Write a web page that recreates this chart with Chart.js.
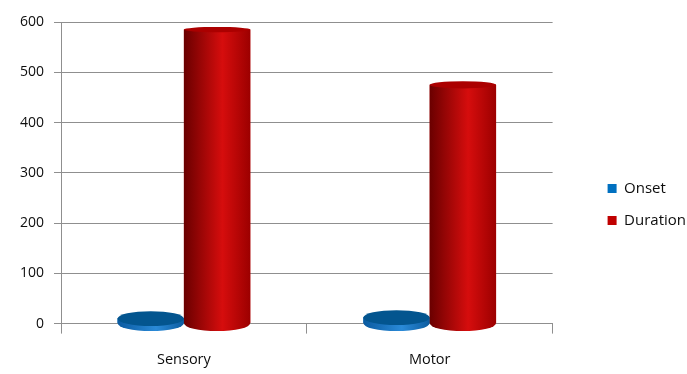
<!DOCTYPE html>
<html><head><meta charset="utf-8">
<script src="https://cdn.jsdelivr.net/npm/chart.js@4.4.1/dist/chart.umd.min.js"></script>
<style>html,body{margin:0;padding:0;background:#fff}canvas{display:block}</style>
</head><body>
<canvas id="c" width="687" height="374"></canvas>
<script>
const categories = ['Sensory', 'Motor'];
const seriesNames = ['Onset', 'Duration'];
const onsetValues = [10, 12];
const durationValues = [585, 475];
const yTicks = [0, 100, 200, 300, 400, 500, 600];

const seriesColors = ['#0070C0', '#C00000'];
const cylStyles = [
  {dark: '#0a5aa0', light: '#2a8ad8', edge: '#0c5c9f', top: '#03558f'},
  {dark: '#6a0000', light: '#d60d0d', edge: '#9c0000', top: '#ab0000'}
];

const cylinderPlugin = {
  id: 'cylinders',
  afterDatasetsDraw(chart) {
    const ctx = chart.ctx;
    const area = chart.chartArea;
    const h = area.bottom - area.top;
    categories.forEach((_, i) => {
      chart.data.datasets.forEach((ds, di) => {
        const el = chart.getDatasetMeta(di).data[i];
        if (!el) return;
        const st = cylStyles[di];
        const w = el.width, x0 = el.x - w / 2, x1 = el.x + w / 2, rx = w / 2;
        const ryBase = 3 + 5 * ((el.base - area.top) / h);
        const ryTop = 2.5 + 5 * ((el.y - area.top) / h);
        const g = ctx.createLinearGradient(x0, 0, x1, 0);
        g.addColorStop(0, st.dark);
        g.addColorStop(0.58, st.light);
        g.addColorStop(1, st.edge);
        ctx.save();
        ctx.fillStyle = g;
        ctx.beginPath();
        ctx.moveTo(x0, el.y);
        ctx.lineTo(x0, el.base);
        ctx.ellipse(el.x, el.base, rx, ryBase, 0, Math.PI, 0, true);
        ctx.lineTo(x1, el.y);
        ctx.closePath();
        ctx.fill();
        ctx.fillStyle = st.top;
        ctx.beginPath();
        ctx.ellipse(el.x, el.y, rx, ryTop, 0, 0, Math.PI * 2);
        ctx.fill();
        ctx.restore();
      });
    });
  }
};

const gridColor = '#8f8f8f';
const textColor = '#0d0d0d';
const fontFamily = 'Open Sans';

new Chart(document.getElementById('c'), {
  type: 'bar',
  data: {
    labels: categories,
    datasets: [
      {label: seriesNames[0], data: onsetValues, backgroundColor: seriesColors[0], borderWidth: 0},
      {label: seriesNames[1], data: durationValues, backgroundColor: seriesColors[1], borderWidth: 0}
    ]
  },
  options: {
    responsive: false,
    animation: false,
    categoryPercentage: 0.54,
    barPercentage: 1.0,
    layout: {padding: {left: 10, top: 22, right: -9, bottom: -13}},
    plugins: {
      tooltip: {enabled: false},
      legend: {
        position: 'right',
        labels: {
          boxWidth: 9, boxHeight: 9, padding: 17,
          color: textColor, font: {family: fontFamily, size: 15}
        }
      }
    },
    scales: {
      x: {
        grid: {display: true, drawOnChartArea: false, offset: true, tickLength: 10, color: gridColor},
        border: {color: gridColor},
        ticks: {color: textColor, font: {family: fontFamily, size: 14.5}, padding: 18}
      },
      y: {
        min: 0, max: 600,
        afterBuildTicks: s => { s.ticks = yTicks.map(v => ({value: v})); },
        grid: {color: gridColor, tickLength: 7},
        border: {color: gridColor},
        ticks: {color: textColor, font: {family: fontFamily, size: 14}, padding: 10}
      },
      y2: {
        position: 'right',
        display: true,
        grid: {display: false},
        border: {display: false},
        ticks: {display: false},
        afterFit: s => { s.width = 38; }
      }
    }
  },
  plugins: [cylinderPlugin]
});
</script>
</body></html>
